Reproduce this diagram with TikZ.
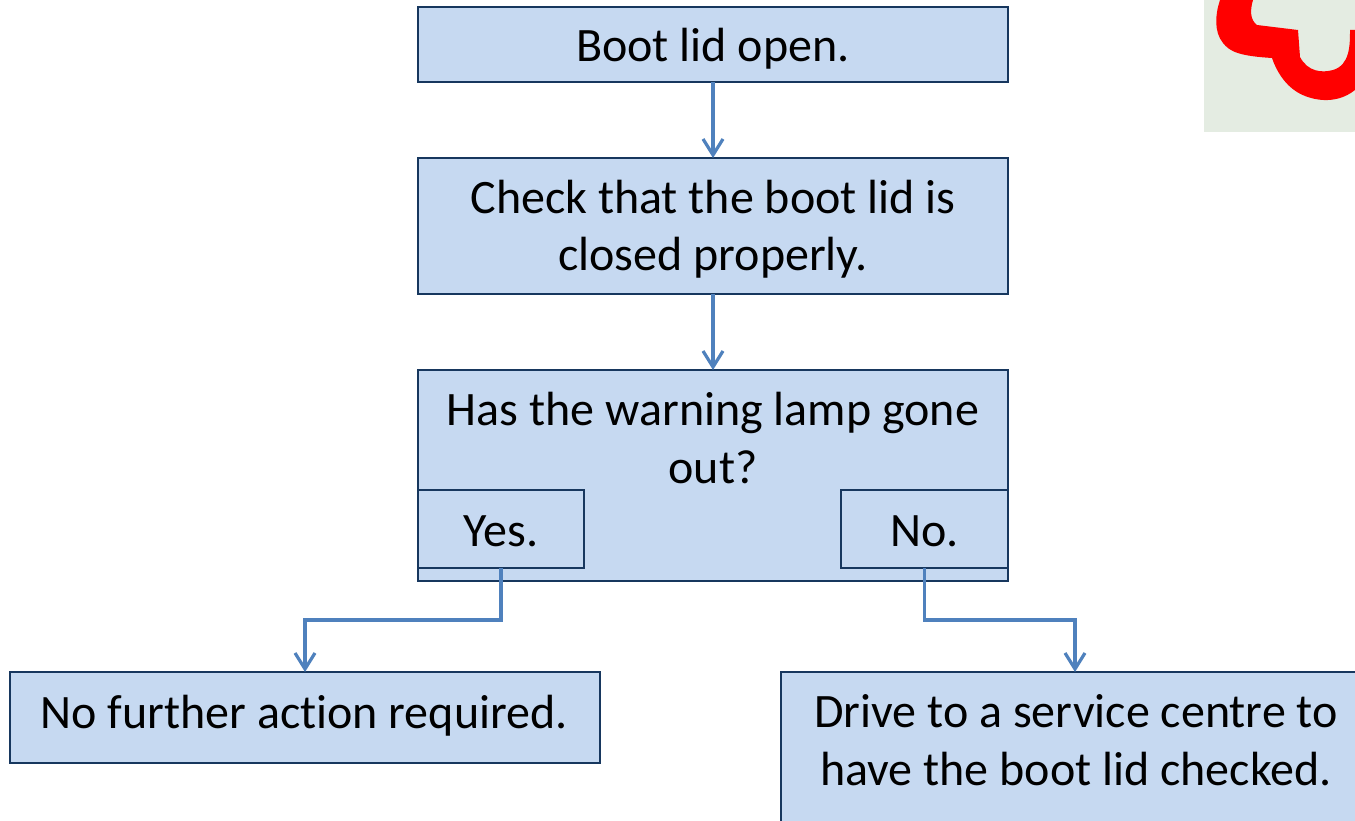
\documentclass[tikz,border=0pt]{standalone}
\usepackage{fontspec}
\setmainfont[Ligatures=NoCommon]{Carlito}
\usetikzlibrary{arrows.meta}
\definecolor{boxfill}{HTML}{C6D9F1}
\definecolor{boxline}{HTML}{17375E}
\definecolor{linkblue}{HTML}{4F81BD}
\definecolor{patchbg}{HTML}{E4ECE2}
\definecolor{squiggle}{HTML}{FF0000}
\tikzset{
  x=1pt,y=-1pt,
  flowbox/.style={draw=boxline,fill=boxfill,line width=2.2pt,inner sep=0pt,outer sep=0pt},
  flowtext/.style={inner sep=0pt,outer sep=0pt,align=center,anchor=base,font=\fontsize{48}{57.5}\selectfont,text=black},
  link/.style={draw=linkblue,line width=3.2pt,-{Straight Barb[length=16pt,width=20pt,line width=3.2pt]}},
}
\newcommand{\flowrect}[5]{\node[flowbox,minimum width=#3pt-#2pt,minimum height=#5pt-#4pt] (#1) at ({(#2+#3)/2},{(#4+#5)/2}) {};}
\begin{document}
\begin{tikzpicture}
\useasboundingbox (0,0) rectangle (1355,821);
\clip (0,0) rectangle (1355,821);
\fill[white] (0,0) rectangle (1355,821);
% picture fragment
\fill[patchbg] (1204,0) rectangle (1355,132);
\fill[squiggle] (1220,0) .. controls (1215,15) and (1214,32) .. (1223,43)
  .. controls (1230,52) and (1240,56) .. (1272,58)
  .. controls (1276,70) and (1284,84) .. (1297,92)
  .. controls (1310,100) and (1335,106) .. (1355,90)
  -- (1355,30) -- (1350,30)
  .. controls (1350,45) and (1350,65) .. (1333,70)
  .. controls (1322,73) and (1308,72) .. (1300,57)
  -- (1298,30) -- (1257,25)
  .. controls (1250,20) and (1250,10) .. (1253,0) -- cycle;
% boxes
\flowrect{boot}{418}{1008}{7}{82}
\node[flowtext] (boottext) at (713,62) {Boot lid open.};
\flowrect{check}{418}{1008}{158}{294}
\node[flowtext] (checktext) at (713,271) {Check that the boot lid is\\closed properly.};
\flowrect{lamp}{418}{1008}{370}{581}
\node[flowtext] (lamptext) at (713,483) {Has the warning lamp gone\\out?};
\flowrect{yes}{418}{584}{490}{568}
\node[flowtext] (yestext) at (501,546) {Yes.};
\flowrect{no}{841}{1008}{490}{568}
\node[flowtext] (notext) at (924.5,546) {No.};
\flowrect{none}{10}{600}{672}{763}
\node[flowtext] (nonetext) at (304,728) {No further action required.};
\flowrect{service}{781}{1369}{672}{860}
\node[flowtext] (servicetext) at (1076,785) {Drive to a service centre to\\have the boot lid checked.};
% connectors
\coordinate (yesbend) at (400,620);
\coordinate (nobend) at (1000,620);
\draw[link] (boot) -- (check);
\draw[link] (check) -- (lamp);
\draw[link] (yes.south) -- (yes.south |- yesbend) -| (none.north);
\draw[link] (no.south) -- (no.south |- nobend) -| (service.north);
\end{tikzpicture}
\end{document}
